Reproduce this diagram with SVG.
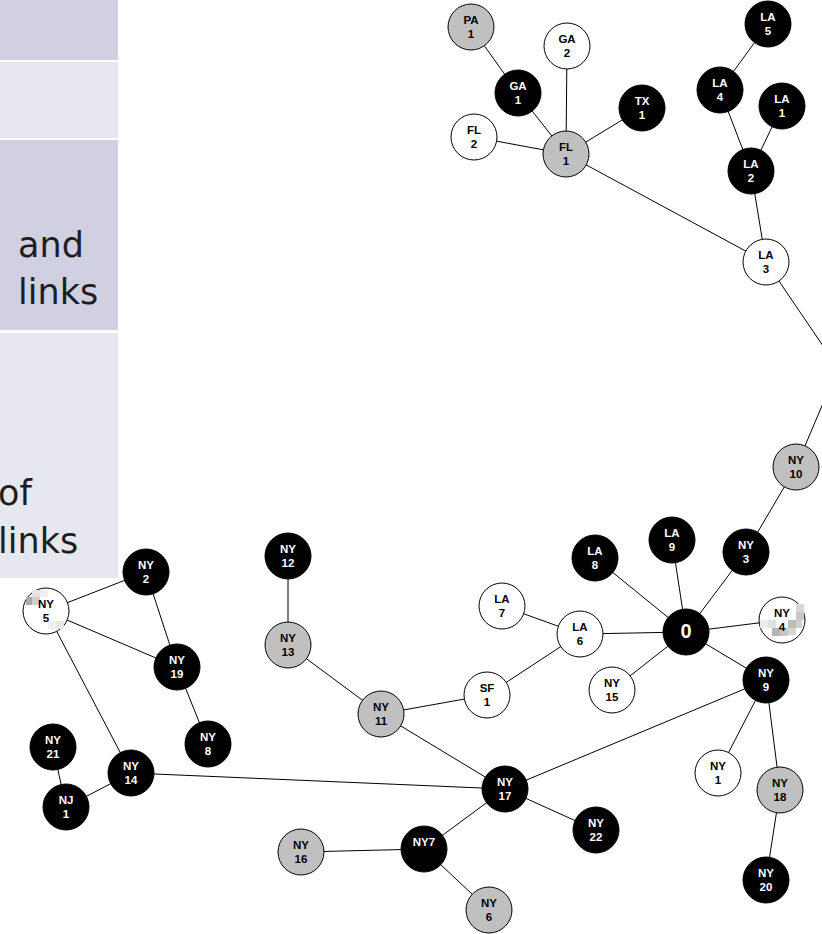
<svg xmlns="http://www.w3.org/2000/svg" width="822" height="934" viewBox="0 0 822 934">
  <style>
    .band-a { fill: #d0d0e2; }
    .band-b { fill: #e6e7ef; }
    .caption { font-family: "DejaVu Sans", "Liberation Sans", sans-serif; font-size: 35px; fill: #1e1e1e; }
    .edges line, .edges polyline { stroke: #000; stroke-width: 1; fill: none; }
    .node circle { stroke: #000; stroke-width: 1; }
    .blk circle { fill: #000; }
    .gry circle { fill: #c0c0c0; }
    .wht circle { fill: #fff; }
    .node text { font-family: "Liberation Sans", Arial, sans-serif; font-weight: bold; font-size: 11.5px; text-anchor: middle; }
    .blk text { fill: #fff; }
    .gry text, .wht text { fill: #000; }
  </style>

  <!-- side panel bands -->
  <g id="panel">
    <rect class="band-a" x="0" y="0" width="118" height="60"/>
    <rect class="band-b" x="0" y="62" width="118" height="76"/>
    <rect class="band-a" x="0" y="140" width="118" height="190"/>
    <rect class="band-b" x="0" y="333" width="118" height="245"/>
    <text class="caption" x="18" y="257">and</text>
    <text class="caption" x="18" y="304">links</text>
    <text class="caption" x="-2" y="505">of</text>
    <text class="caption" x="-2" y="553">links</text>
  </g>

  <!-- connectors -->
  <g id="edges" class="edges">
    <line x1="471" y1="27" x2="518" y2="93"/>
    <line x1="518" y1="93" x2="566" y2="154"/>
    <line x1="567" y1="46" x2="566" y2="154"/>
    <line x1="642" y1="108" x2="566" y2="154"/>
    <line x1="474" y1="137" x2="566" y2="154"/>
    <line x1="566" y1="154" x2="766" y2="262"/>
    <line x1="768" y1="24" x2="720" y2="90"/>
    <line x1="720" y1="90" x2="751" y2="171"/>
    <line x1="782" y1="106" x2="751" y2="171"/>
    <line x1="751" y1="171" x2="766" y2="262"/>
    <polyline points="766,262 838,368 796,467"/>
    <line x1="796" y1="467" x2="746" y2="552"/>
    <line x1="746" y1="552" x2="686" y2="632"/>
    <line x1="672" y1="540" x2="686" y2="632"/>
    <line x1="595" y1="558" x2="686" y2="632"/>
    <line x1="580" y1="634" x2="686" y2="632"/>
    <line x1="782" y1="620" x2="686" y2="632"/>
    <line x1="766" y1="680" x2="686" y2="632"/>
    <line x1="612" y1="690" x2="686" y2="632"/>
    <line x1="502" y1="606" x2="580" y2="634"/>
    <line x1="580" y1="634" x2="487" y2="695"/>
    <line x1="487" y1="695" x2="381" y2="714"/>
    <line x1="288" y1="556" x2="288" y2="645"/>
    <line x1="288" y1="645" x2="381" y2="714"/>
    <line x1="381" y1="714" x2="505" y2="789"/>
    <line x1="505" y1="789" x2="766" y2="680"/>
    <line x1="505" y1="789" x2="596" y2="830"/>
    <line x1="505" y1="789" x2="424" y2="849"/>
    <line x1="505" y1="789" x2="131" y2="773"/>
    <line x1="424" y1="849" x2="301" y2="852"/>
    <line x1="424" y1="849" x2="489" y2="910"/>
    <line x1="766" y1="680" x2="718" y2="773"/>
    <line x1="766" y1="680" x2="780" y2="790"/>
    <line x1="780" y1="790" x2="766" y2="880"/>
    <line x1="146" y1="572" x2="46" y2="611"/>
    <line x1="146" y1="572" x2="177" y2="667"/>
    <line x1="46" y1="611" x2="177" y2="667"/>
    <line x1="46" y1="611" x2="131" y2="773"/>
    <line x1="177" y1="667" x2="208" y2="744"/>
    <line x1="53" y1="747" x2="66" y2="807"/>
    <line x1="66" y1="807" x2="131" y2="773"/>
  </g>

  <!-- nodes -->
  <g id="n-pa1" class="node gry"><circle cx="471" cy="27" r="23"/><text x="471" y="24">PA</text><text x="471" y="38">1</text></g>
  <g id="n-ga2" class="node wht"><circle cx="567" cy="46" r="23"/><text x="567" y="43">GA</text><text x="567" y="57">2</text></g>
  <g id="n-ga1" class="node blk"><circle cx="518" cy="93" r="23"/><text x="518" y="90">GA</text><text x="518" y="104">1</text></g>
  <g id="n-tx1" class="node blk"><circle cx="642" cy="108" r="23"/><text x="642" y="105">TX</text><text x="642" y="119">1</text></g>
  <g id="n-fl2" class="node wht"><circle cx="474" cy="137" r="23"/><text x="474" y="134">FL</text><text x="474" y="148">2</text></g>
  <g id="n-fl1" class="node gry"><circle cx="566" cy="154" r="23"/><text x="566" y="151">FL</text><text x="566" y="165">1</text></g>
  <g id="n-la5" class="node blk"><circle cx="768" cy="24" r="23"/><text x="768" y="21">LA</text><text x="768" y="35">5</text></g>
  <g id="n-la4" class="node blk"><circle cx="720" cy="90" r="23"/><text x="720" y="87">LA</text><text x="720" y="101">4</text></g>
  <g id="n-la1" class="node blk"><circle cx="782" cy="106" r="23"/><text x="782" y="103">LA</text><text x="782" y="117">1</text></g>
  <g id="n-la2" class="node blk"><circle cx="751" cy="171" r="23"/><text x="751" y="168">LA</text><text x="751" y="182">2</text></g>
  <g id="n-la3" class="node wht"><circle cx="766" cy="262" r="23"/><text x="766" y="259">LA</text><text x="766" y="273">3</text></g>
  <g id="n-ny10" class="node gry"><circle cx="796" cy="467" r="23"/><text x="796" y="464">NY</text><text x="796" y="478">10</text></g>
  <g id="n-ny3" class="node blk"><circle cx="746" cy="552" r="23"/><text x="746" y="549">NY</text><text x="746" y="563">3</text></g>
  <g id="n-la9" class="node blk"><circle cx="672" cy="540" r="23"/><text x="672" y="537">LA</text><text x="672" y="551">9</text></g>
  <g id="n-la8" class="node blk"><circle cx="595" cy="558" r="23"/><text x="595" y="555">LA</text><text x="595" y="569">8</text></g>
  <g id="n-la7" class="node wht"><circle cx="502" cy="606" r="23"/><text x="502" y="603">LA</text><text x="502" y="617">7</text></g>
  <g id="n-la6" class="node wht"><circle cx="580" cy="634" r="23"/><text x="580" y="631">LA</text><text x="580" y="645">6</text></g>
  <g id="n-0" class="node blk"><circle cx="686" cy="632" r="23"/><text x="686" y="638" style="font-size:20px">0</text></g>
  <g id="n-ny4" class="node wht">
    <circle cx="782" cy="620" r="23"/>
    <rect x="760" y="620" width="8" height="8" fill="#ececec"/>
    <rect x="768" y="620" width="8" height="8" fill="#e0e0e0"/>
    <rect x="796" y="604" width="8" height="8" fill="#d8d8d8"/>
    <rect x="796" y="612" width="8" height="8" fill="#c8c8c8"/>
    <rect x="788" y="620" width="8" height="8" fill="#bcbcbc"/>
    <rect x="796" y="620" width="6" height="8" fill="#d0d0d0"/>
    <rect x="772" y="628" width="8" height="8" fill="#b4b4b4"/>
    <rect x="780" y="628" width="8" height="8" fill="#c4c4c4"/>
    <rect x="788" y="628" width="8" height="7" fill="#d4d4d4"/>
    <text x="782" y="617">NY</text><text x="782" y="631">4</text>
  </g>
  <g id="n-ny9" class="node blk"><circle cx="766" cy="680" r="23"/><text x="766" y="677">NY</text><text x="766" y="691">9</text></g>
  <g id="n-ny15" class="node wht"><circle cx="612" cy="690" r="23"/><text x="612" y="687">NY</text><text x="612" y="701">15</text></g>
  <g id="n-sf1" class="node wht"><circle cx="487" cy="695" r="23"/><text x="487" y="692">SF</text><text x="487" y="706">1</text></g>
  <g id="n-ny12" class="node blk"><circle cx="288" cy="556" r="23"/><text x="288" y="553">NY</text><text x="288" y="567">12</text></g>
  <g id="n-ny13" class="node gry"><circle cx="288" cy="645" r="23"/><text x="288" y="642">NY</text><text x="288" y="656">13</text></g>
  <g id="n-ny11" class="node gry"><circle cx="381" cy="714" r="23"/><text x="381" y="711">NY</text><text x="381" y="725">11</text></g>
  <g id="n-ny17" class="node blk"><circle cx="505" cy="789" r="23"/><text x="505" y="786">NY</text><text x="505" y="800">17</text></g>
  <g id="n-ny22" class="node blk"><circle cx="596" cy="830" r="23"/><text x="596" y="827">NY</text><text x="596" y="841">22</text></g>
  <g id="n-ny7" class="node blk"><circle cx="424" cy="849" r="23"/><text x="424" y="846">NY7</text></g>
  <g id="n-ny16" class="node gry"><circle cx="301" cy="852" r="23"/><text x="301" y="849">NY</text><text x="301" y="863">16</text></g>
  <g id="n-ny6" class="node gry"><circle cx="489" cy="910" r="23"/><text x="489" y="907">NY</text><text x="489" y="921">6</text></g>
  <g id="n-ny1" class="node wht"><circle cx="718" cy="773" r="23"/><text x="718" y="770">NY</text><text x="718" y="784">1</text></g>
  <g id="n-ny18" class="node gry"><circle cx="780" cy="790" r="23"/><text x="780" y="787">NY</text><text x="780" y="801">18</text></g>
  <g id="n-ny20" class="node blk"><circle cx="766" cy="880" r="23"/><text x="766" y="877">NY</text><text x="766" y="891">20</text></g>
  <g id="n-ny2" class="node blk"><circle cx="146" cy="572" r="23"/><text x="146" y="569">NY</text><text x="146" y="583">2</text></g>
  <g id="n-ny5" class="node wht">
    <circle cx="46" cy="611" r="23"/>
    <rect x="26" y="597" width="6" height="8" fill="#a8a8a8"/>
    <rect x="32" y="590" width="8" height="7" fill="#e4e4e4"/>
    <rect x="32" y="597" width="8" height="8" fill="#d0d0d0"/>
    <rect x="40" y="590" width="8" height="7" fill="#f0f0f0"/>
    <rect x="48" y="621" width="8" height="8" fill="#f0f0f0"/>
    <rect x="56" y="621" width="8" height="8" fill="#e6e6e6"/>
    <text x="46" y="608">NY</text><text x="46" y="622">5</text>
  </g>
  <g id="n-ny19" class="node blk"><circle cx="177" cy="667" r="23"/><text x="177" y="664">NY</text><text x="177" y="678">19</text></g>
  <g id="n-ny8" class="node blk"><circle cx="208" cy="744" r="23"/><text x="208" y="741">NY</text><text x="208" y="755">8</text></g>
  <g id="n-ny21" class="node blk"><circle cx="53" cy="747" r="23"/><text x="53" y="744">NY</text><text x="53" y="758">21</text></g>
  <g id="n-ny14" class="node blk"><circle cx="131" cy="773" r="23"/><text x="131" y="770">NY</text><text x="131" y="784">14</text></g>
  <g id="n-nj1" class="node blk"><circle cx="66" cy="807" r="23"/><text x="66" y="804">NJ</text><text x="66" y="818">1</text></g>
</svg>
